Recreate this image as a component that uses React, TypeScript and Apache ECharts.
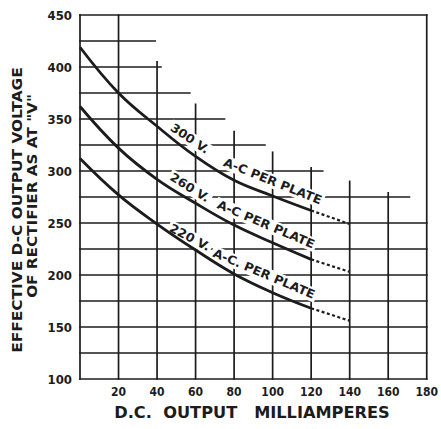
import React, { useEffect, useRef } from 'react';
import * as echarts from 'echarts';

// Curve data (D.C. output milliamperes vs effective D-C output voltage)
const xValues = [0, 20, 40, 60, 80, 100, 120, 140];
const volts300 = [419, 375, 343, 314, 291, 276, 262, 249];
const volts260 = [362, 322, 292, 269, 248, 231, 215, 203];
const volts220 = [312, 277, 249, 224, 201, 183, 168, 156];
const solidCount = 7; // points 0..120 are solid, 120..140 dashed

// Tick labels
const xTickLabels = ['', '20', '40', '60', '80', '100', '120', '140', '160', '180'];
const yTickLabels = ['100', '150', '200', '250', '300', '350', '400', '450'];

// Staircase grid of the original drawing
const verticalGridX = [0, 20, 40, 60, 80, 100, 120, 140, 160, 180];
const verticalGridTop = [450, 450, 405, 364, 338, 318, 303, 290, 279, 450];
const horizontalGridY = [100, 125, 150, 175, 200, 225, 250, 275, 300, 325, 350, 375, 400, 425, 450];
const horizontalGridEnd = [180, 180, 180, 180, 180, 180, 180, 171, 126, 96, 75, 57, 42, 39, 180];

// Curve labels
const labelTexts = ['300 V.', 'A-C PER PLATE', '260 V.', 'A-C PER PLATE', '220 V.', 'A-C. PER PLATE'];
const labelX = [57, 100, 57, 96.5, 57, 95.5];
const labelY = [331, 290, 284, 248.5, 236, 201];
const labelAngle = [34, 22, 32, 23, 28, 23];

const INK = '#1c1c1c';

export default function App() {
  const ref = useRef<HTMLDivElement>(null);

  useEffect(() => {
    const chart = echarts.init(ref.current!, null, { renderer: 'svg' });

    const gridSegments: number[][] = [];
    verticalGridX.forEach((x, i) => gridSegments.push([x, 100, x, verticalGridTop[i]]));
    horizontalGridY.forEach((y, i) => gridSegments.push([0, y, horizontalGridEnd[i], y]));

    const curves = [volts300, volts260, volts220];
    const curveSeries: any[] = [];
    curves.forEach((vals, ci) => {
      const pts = xValues.map((x, i) => [x, vals[i]]);
      curveSeries.push({
        type: 'line',
        name: 'solid' + ci,
        data: pts.slice(0, solidCount),
        symbol: 'none',
        smooth: 0.4,
        z: 5,
        silent: true,
        lineStyle: { color: INK, width: 2.8 },
      });
      curveSeries.push({
        type: 'line',
        name: 'dash' + ci,
        data: pts.slice(solidCount - 1),
        symbol: 'none',
        z: 5,
        silent: true,
        lineStyle: { color: INK, width: 2.2, type: [3, 2.5] },
      });
    });

    const option: any = {
      animation: false,
      backgroundColor: '#ffffff',
      grid: { left: 80, right: 11, top: 15, bottom: 50 },
      xAxis: {
        type: 'value',
        min: 0,
        max: 180,
        interval: 20,
        axisLine: { show: false },
        axisTick: { show: false },
        splitLine: { show: false },
        axisLabel: {
          margin: 7,
          color: INK,
          fontFamily: 'DejaVu Sans Condensed',
          fontWeight: 'bold',
          fontSize: 12,
          formatter: (v: number) => xTickLabels[Math.round(v / 20)] ?? '',
        },
      },
      yAxis: {
        type: 'value',
        min: 100,
        max: 450,
        interval: 50,
        axisLine: { show: false },
        axisTick: { show: false },
        splitLine: { show: false },
        axisLabel: {
          margin: 8,
          color: INK,
          fontFamily: 'DejaVu Sans Condensed',
          fontWeight: 'bold',
          fontSize: 13,
          formatter: (v: number) => yTickLabels[Math.round((v - 100) / 50)] ?? '',
        },
      },
      graphic: [
        {
          type: 'text',
          x: 17,
          y: 210,
          rotation: Math.PI / 2,
          scaleX: 1.1,
          style: {
            text: 'EFFECTIVE D-C OUTPUT VOLTAGE',
            fill: INK,
            fontFamily: 'DejaVu Sans',
            fontWeight: 'bold',
            fontSize: 14,
            align: 'center',
            verticalAlign: 'middle',
          },
        },
        {
          type: 'text',
          x: 32,
          y: 196,
          rotation: Math.PI / 2,
          scaleX: 1.09,
          style: {
            text: 'OF RECTIFIER AS AT "V"',
            fill: INK,
            fontFamily: 'DejaVu Sans',
            fontWeight: 'bold',
            fontSize: 14,
            align: 'center',
            verticalAlign: 'middle',
          },
        },
        {
          type: 'text',
          x: 252,
          y: 413,
          scaleX: 1.08,
          style: {
            text: 'D.C.  OUTPUT   MILLIAMPERES',
            fill: INK,
            fontFamily: 'DejaVu Sans',
            fontWeight: 'bold',
            fontSize: 15,
            align: 'center',
            verticalAlign: 'middle',
          },
        },
      ],
      series: [
        {
          type: 'custom',
          name: 'grid',
          coordinateSystem: 'cartesian2d',
          data: gridSegments,
          encode: { x: [0, 2], y: [1, 3] },
          z: 1,
          silent: true,
          renderItem: (_p: any, api: any) => {
            const a = api.coord([api.value(0), api.value(1)]);
            const b = api.coord([api.value(2), api.value(3)]);
            return {
              type: 'line',
              shape: { x1: a[0], y1: a[1], x2: b[0], y2: b[1] },
              style: { stroke: INK, lineWidth: 1.7, lineCap: 'square' },
            };
          },
        },
        {
          type: 'custom',
          name: 'labels',
          coordinateSystem: 'cartesian2d',
          data: labelTexts.map((_t, i) => [labelX[i], labelY[i], labelAngle[i], i]),
          z: 3,
          silent: true,
          renderItem: (_p: any, api: any) => {
            const p = api.coord([api.value(0), api.value(1)]);
            const i = api.value(3);
            return {
              type: 'text',
              x: p[0],
              y: p[1],
              rotation: (-api.value(2) * Math.PI) / 180,
              scaleX: 1.06,
              style: {
                text: labelTexts[i],
                fill: INK,
                fontFamily: 'DejaVu Sans',
                fontWeight: 'bold',
                fontSize: 12,
                align: 'center',
                verticalAlign: 'middle',
                backgroundColor: '#ffffff',
                padding: [1, 2],
              },
            };
          },
        },
        ...curveSeries,
      ],
    };

    chart.setOption(option);
    return () => chart.dispose();
  }, []);

  return (
    <div
      ref={ref}
      style={{ position: 'fixed', left: 0, top: 0, width: 441, height: 429 }}
    />
  );
}
